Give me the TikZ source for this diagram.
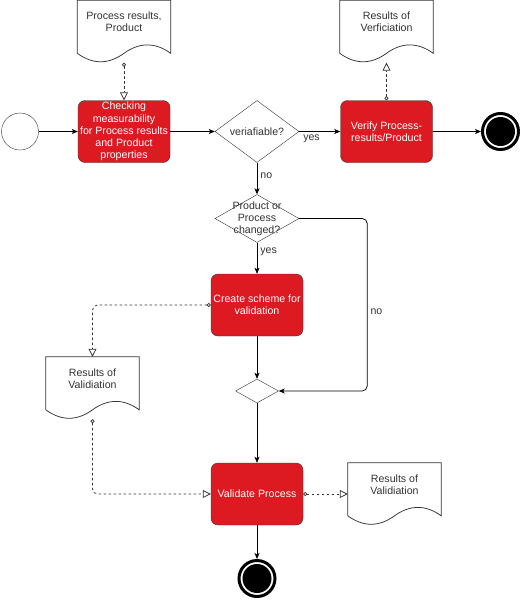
\documentclass[tikz,border=0pt]{standalone}
\usepackage{fontspec}
\setmainfont{Liberation Sans}
\usetikzlibrary{arrows.meta, shapes.geometric}

\definecolor{actred}{HTML}{DD1A22}
\definecolor{actline}{HTML}{333333}
\definecolor{txtgray}{HTML}{333333}

% document outline (wavy bottom) round an empty frame node
\newcommand{\docoutline}[1]{%
  \draw[docline] (#1.north west) -- (#1.north east) -- ([yshift=9.4pt]#1.south east)
    .. controls +(-15.5pt,11.2pt) and +(15.5pt,11.2pt) .. ([yshift=9.4pt]#1.south)
    .. controls +(-15.5pt,-11.3pt) and +(15.5pt,-11.3pt) .. ([yshift=9.4pt]#1.south west)
    -- cycle;}

\begin{document}
\begin{tikzpicture}[x=1pt, y=-1pt,
    every node/.style={font=\fontsize{10.6}{12.2}\selectfont},
    act/.style={rectangle, rounded corners=7pt, draw=actline, fill=actred, text=white,
      minimum width=92pt, minimum height=62pt, inner sep=1pt, align=center},
    gate/.style={diamond, draw=actline, fill=white, text=txtgray, minimum width=84pt,
      minimum height=48pt, inner sep=0pt, align=center},
    startev/.style={circle, draw=actline, fill=white, minimum size=37pt, inner sep=0pt},
    endev/.style={circle, draw=black, line width=3pt, fill=white, minimum size=36pt, inner sep=0pt,
      path picture={\fill[black] (path picture bounding box.center) circle (14.5pt);}},
    docframe/.style={rectangle, minimum width=93pt, minimum height=62pt, inner sep=0pt},
    doctext/.style={text=txtgray, align=center, inner sep=0pt},
    docline/.style={draw=actline, fill=white, line width=0.75pt},
    lbl/.style={text=txtgray, inner sep=3pt},
    flow/.style={draw=black, line width=0.75pt, -{Stealth[length=6pt, width=5pt, inset=1.5pt]}},
    assoc/.style={draw=actline, line width=0.75pt, dash pattern=on 2.5pt off 2.5pt,
      {Circle[open, length=4pt, width=4pt]}-{Triangle[open, length=8pt, width=8pt]}}]

    \useasboundingbox (0,0) rectangle (522,600);

    % Top row
    \node[startev] (start) at (20,131.5) {};
    \node[act] (check) at (124,131.5) {Checking\\measurability\\for Process results\\and Product\\properties};
    \node[gate] (verif) at (257,131.5) {veriafiable?};
    \node[act] (verify) at (386.5,131.5) {Verify Process-\\results/Product};
    \node[endev] (endA) at (500.5,131.5) {};

    % Middle column
    \node[gate, inner sep=-12pt] (changed) at (257,218.5) {Product or\\Process\\changed?};
    \node[act] (create) at (257,305) {Create scheme for\\validation};
    \node[gate, minimum width=43pt, minimum height=24pt] (merge) at (257,391) {};
    \node[act] (validate) at (257,494) {Validate Process};
    \node[endev] (endB) at (257,578.5) {};

    % Documents
    \node[docframe] (resP) at (124,31.5) {};
    \node[docframe] (resV) at (386.5,31.5) {};
    \node[docframe] (resVa) at (92.5,388) {};
    \node[docframe] (resVb) at (394.5,494) {};
    \docoutline{resP}
    \docoutline{resV}
    \docoutline{resVa}
    \docoutline{resVb}
    \node[doctext] (resPtxt) at ([yshift=9.5pt]resP.center) {Process results,\\Product};
    \node[doctext] (resVtxt) at ([yshift=9.5pt]resV.center) {Results of\\Verficiation};
    \node[doctext] (resVatxt) at ([yshift=9.5pt]resVa.center) {Results of\\Validiation};
    \node[doctext] (resVbtxt) at ([yshift=9.5pt]resVb.center) {Results of\\Validiation};

    % Sequence flow
    \draw[flow] (start) -- (check);
    \draw[flow] (check) -- (verif);
    \draw[flow] (verif) -- node[lbl, below, pos=0.3] {yes} (verify);
    \draw[flow] (verify) -- (endA);
    \draw[flow] (verif) -- node[lbl, right, pos=0.42] {no} (changed);
    \draw[flow] (changed) -- node[lbl, right, pos=0.3] {yes} (create);
    \draw[flow, rounded corners=5pt] (changed.east) -- ++(68,0) |- node[lbl, right, pos=0.27] {no} (merge.east);
    \draw[flow] (create) -- (merge);
    \draw[flow] (merge) -- (validate);
    \draw[flow] (validate) -- (endB);

    % Data associations
    \draw[assoc] (resP) -- (check);
    \draw[assoc] (verify) -- (resV);
    \draw[assoc, rounded corners=5pt] (create.west) -| (resVa.north);
    \draw[assoc, rounded corners=5pt] (resVa.south) |- (validate.west);
    \draw[assoc] (validate) -- (resVb);
\end{tikzpicture}
\end{document}
